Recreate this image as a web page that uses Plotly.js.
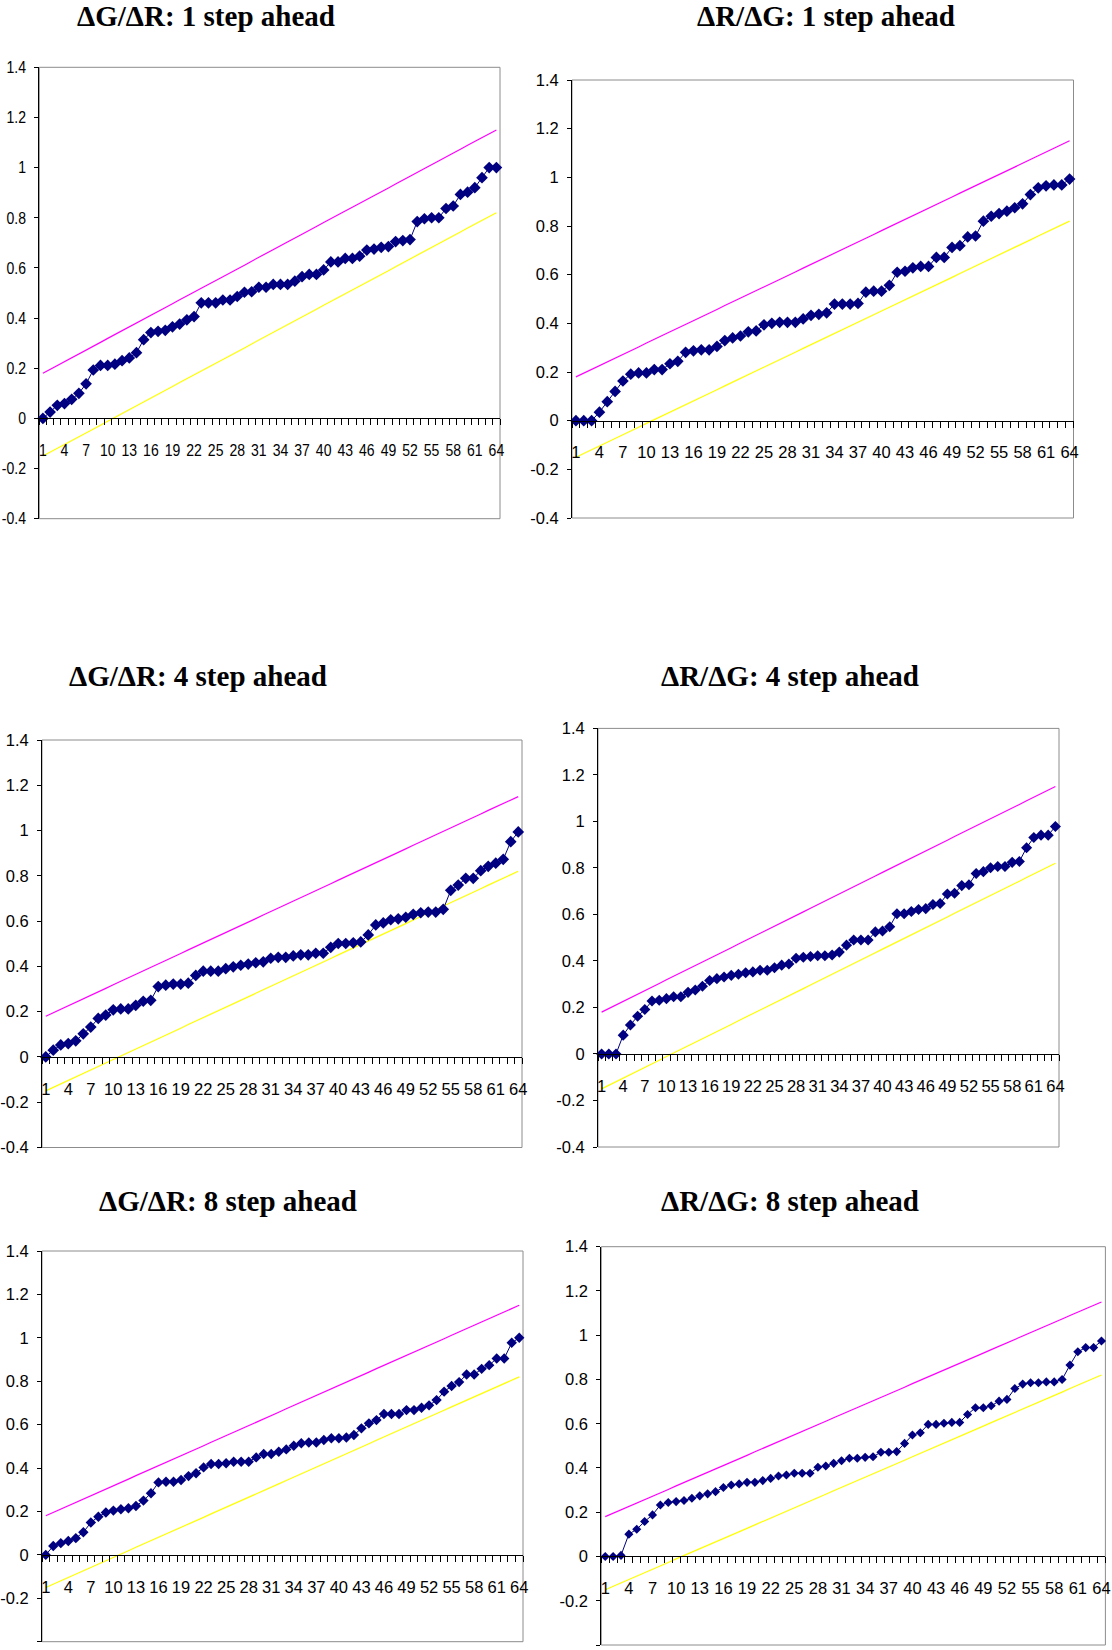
<!DOCTYPE html>
<html><head><meta charset="utf-8">
<script src="https://cdn.plot.ly/plotly-3.0.1.min.js"></script>
<style>html,body{margin:0;padding:0;background:#fff}#chart{width:1112px;height:1650px}</style>
</head><body><div id="chart"></div>
<script>
const categories = [1,2,3,4,5,6,7,8,9,10,11,12,13,14,15,16,17,18,19,20,21,22,23,24,25,26,27,28,29,30,31,32,33,34,35,36,37,38,39,40,41,42,43,44,45,46,47,48,49,50,51,52,53,54,55,56,57,58,59,60,61,62,63,64];

const upperBound = [0.180,0.195,0.211,0.226,0.242,0.257,0.272,0.288,0.303,0.319,
  0.334,0.349,0.365,0.380,0.396,0.411,0.426,0.442,0.457,0.473,
  0.488,0.503,0.519,0.534,0.550,0.565,0.580,0.596,0.611,0.627,
  0.642,0.657,0.673,0.688,0.704,0.719,0.734,0.750,0.765,0.781,
  0.796,0.811,0.827,0.842,0.858,0.873,0.888,0.904,0.919,0.935,
  0.950,0.965,0.981,0.996,1.012,1.027,1.042,1.058,1.073,1.089,
  1.104,1.119,1.135,1.150];

const lowerBound = [-0.150,-0.135,-0.119,-0.104,-0.088,-0.073,-0.058,-0.042,-0.027,-0.011,
  0.004,0.019,0.035,0.050,0.066,0.081,0.096,0.112,0.127,0.143,
  0.158,0.173,0.189,0.204,0.220,0.235,0.250,0.266,0.281,0.297,
  0.312,0.327,0.343,0.358,0.374,0.389,0.404,0.420,0.435,0.451,
  0.466,0.481,0.497,0.512,0.528,0.543,0.558,0.574,0.589,0.605,
  0.620,0.635,0.651,0.666,0.682,0.697,0.712,0.728,0.743,0.759,
  0.774,0.789,0.805,0.820];

const gr1 = [0,0.025,0.052,0.059,0.076,0.10,0.138,0.193,0.211,0.211,
  0.216,0.23,0.241,0.262,0.314,0.342,0.347,0.351,0.365,0.376,
  0.393,0.406,0.461,0.461,0.461,0.472,0.472,0.486,0.503,0.505,
  0.523,0.523,0.534,0.534,0.534,0.547,0.565,0.574,0.574,0.592,
  0.624,0.624,0.638,0.638,0.647,0.671,0.675,0.682,0.685,0.705,
  0.709,0.713,0.785,0.796,0.80,0.80,0.837,0.847,0.893,0.902,
  0.92,0.96,1.0,1.0];

const rg1 = [0,0,0,0.035,0.078,0.12,0.163,0.191,0.196,0.196,
  0.21,0.21,0.234,0.244,0.281,0.287,0.291,0.291,0.305,0.329,
  0.34,0.348,0.365,0.369,0.394,0.40,0.404,0.404,0.404,0.418,
  0.433,0.437,0.443,0.479,0.479,0.479,0.482,0.528,0.532,0.532,
  0.556,0.61,0.614,0.628,0.634,0.634,0.671,0.671,0.712,0.719,
  0.755,0.759,0.82,0.84,0.851,0.861,0.875,0.891,0.929,0.957,
  0.965,0.969,0.969,0.993];

const gr4 = [0,0.03,0.053,0.059,0.071,0.102,0.132,0.17,0.185,0.208,
  0.212,0.212,0.228,0.246,0.25,0.311,0.317,0.322,0.322,0.326,
  0.36,0.379,0.379,0.379,0.39,0.398,0.405,0.41,0.416,0.42,
  0.436,0.44,0.44,0.446,0.451,0.451,0.458,0.458,0.484,0.501,
  0.501,0.504,0.508,0.539,0.583,0.592,0.606,0.61,0.617,0.63,
  0.637,0.64,0.64,0.652,0.736,0.759,0.789,0.789,0.823,0.842,
  0.856,0.873,0.951,0.994];

const rg4 = [0,0,0,0.081,0.125,0.162,0.191,0.228,0.231,0.238,
  0.246,0.246,0.265,0.275,0.291,0.316,0.324,0.331,0.338,0.343,
  0.349,0.353,0.36,0.36,0.371,0.382,0.387,0.412,0.416,0.419,
  0.422,0.422,0.426,0.438,0.468,0.49,0.49,0.49,0.525,0.529,
  0.547,0.603,0.603,0.613,0.621,0.625,0.643,0.647,0.688,0.691,
  0.724,0.728,0.776,0.784,0.801,0.806,0.806,0.824,0.828,0.887,
  0.931,0.941,0.941,0.978];

const gr8 = [0,0.041,0.054,0.064,0.077,0.104,0.149,0.176,0.195,0.204,
  0.21,0.215,0.225,0.25,0.284,0.334,0.337,0.337,0.345,0.363,
  0.376,0.403,0.419,0.419,0.422,0.429,0.429,0.429,0.449,0.465,
  0.465,0.475,0.486,0.503,0.514,0.518,0.518,0.529,0.537,0.537,
  0.541,0.552,0.583,0.606,0.621,0.649,0.649,0.649,0.667,0.667,
  0.678,0.689,0.713,0.752,0.778,0.796,0.831,0.831,0.857,0.874,
  0.905,0.905,0.977,1.0];

const rg8 = [0,0,0.005,0.101,0.123,0.158,0.188,0.233,0.244,0.248,
  0.253,0.263,0.274,0.283,0.293,0.312,0.323,0.328,0.335,0.335,
  0.343,0.353,0.364,0.368,0.376,0.376,0.376,0.403,0.409,0.421,
  0.433,0.444,0.444,0.448,0.451,0.471,0.471,0.474,0.511,0.549,
  0.559,0.597,0.597,0.602,0.606,0.606,0.642,0.672,0.672,0.681,
  0.702,0.71,0.759,0.779,0.785,0.785,0.789,0.789,0.8,0.865,
  0.925,0.944,0.944,0.974];

const titles = ['ΔG/ΔR: 1 step ahead','ΔR/ΔG: 1 step ahead','ΔG/ΔR: 4 step ahead','ΔR/ΔG: 4 step ahead','ΔG/ΔR: 8 step ahead','ΔR/ΔG: 8 step ahead'];
const series = [gr1, rg1, gr4, rg4, gr8, rg8];

const xTickVals = [1,4,7,10,13,16,19,22,25,28,31,34,37,40,43,46,49,52,55,58,61,64];
const xTickText = ['1','4','7','10','13','16','19','22','25','28','31','34','37','40','43','46','49','52','55','58','61','64'];
const yTickVals = [-0.4,-0.2,0,0.2,0.4,0.6,0.8,1,1.2,1.4];
const yTickText = ['-0.4','-0.2','0','0.2','0.4','0.6','0.8','1','1.2','1.4'];

// layout geometry (pixels)
const W = 1112, H = 1650;
const boxes = [
  {l:39.3, r:500,    t:67.3,  b:518.7,  tx:205.5, ty:15.5,   ms:9},
  {l:572,  r:1073.5, t:80,    b:518,    tx:826.3, ty:15.5,   ms:9},
  {l:42,   r:522,    t:740,   b:1147.5, tx:198.3, ty:676.2,  ms:9},
  {l:598,  r:1059,   t:728.4, b:1147,   tx:789.7, ty:676.2,  ms:8.5},
  {l:42,   r:523,    t:1251,  b:1641.7, tx:227.5, ty:1201.2, ms:8},
  {l:601.3,r:1105.4, t:1246.7,b:1645,   tx:789.7, ty:1201.2, ms:7}
];
const YMIN = -0.4, YMAX = 1.4;
const LABEL_SQUEEZE = 0.85;

const tickFont = {family:'"Liberation Sans", Arial, sans-serif', size:16.5, color:'#000'};
const data = [];
const layout = {
  width: W, height: H,
  margin: {l:0, r:0, t:0, b:0},
  paper_bgcolor: '#fff', plot_bgcolor: '#fff',
  showlegend: false,
  shapes: [], annotations: []
};

boxes.forEach((bx, i) => {
  const n = i + 1;
  const xa = n === 1 ? 'x' : 'x' + n;
  const ya = n === 1 ? 'y' : 'y' + n;
  const xk = n === 1 ? 'xaxis' : 'xaxis' + n;
  const yk = n === 1 ? 'yaxis' : 'yaxis' + n;
  const y0 = 1 - bx.b / H, y1 = 1 - bx.t / H;
  const zeroPos = y0 + (0 - YMIN) / (YMAX - YMIN) * (y1 - y0);

  data.push({x: categories, y: upperBound, xaxis: xa, yaxis: ya, mode: 'lines', type: 'scatter',
    line: {color: '#FF00FF', width: 1.2}, hoverinfo: 'skip'});
  data.push({x: categories, y: lowerBound, xaxis: xa, yaxis: ya, mode: 'lines', type: 'scatter',
    line: {color: '#FFFF00', width: 1.2}, hoverinfo: 'skip'});
  data.push({x: categories, y: series[i], xaxis: xa, yaxis: ya, mode: 'lines+markers', type: 'scatter',
    line: {color: '#000080', width: 1}, marker: {symbol: 'diamond', size: bx.ms, color: '#000080'}, cliponaxis: false});

  layout[xk] = {
    domain: [bx.l / W, bx.r / W], range: [0.5, 64.5],
    anchor: 'free', position: zeroPos,
    showline: true, linecolor: '#000', linewidth: 1,
    tickmode: 'array', tickvals: xTickVals, ticktext: xTickText,
    ticks: '', ticklabelstandoff: 17,
    minor: {ticks: 'outside', tickmode: 'linear', tick0: 0.5, dtick: 1, ticklen: 6, tickcolor: '#000', tickwidth: 1, showgrid: false},
    showgrid: false, zeroline: false, tickfont: tickFont, fixedrange: true
  };
  layout[yk] = {
    domain: [y0, y1], range: [YMIN, YMAX], anchor: xa,
    showline: true, linecolor: '#000', linewidth: 1,
    tickmode: 'array', tickvals: yTickVals, ticktext: yTickText,
    ticks: 'outside', ticklen: 4, tickcolor: '#000', ticklabelstandoff: 5,
    showgrid: false, zeroline: false, tickfont: tickFont, fixedrange: true
  };
  layout.shapes.push({type: 'rect', xref: xa + ' domain', yref: ya + ' domain', x0: 0, x1: 1, y0: 0, y1: 1,
    line: {color: '#8c8c8c', width: 1}, layer: 'below'});
  layout.annotations.push({text: '<b>' + titles[i] + '</b>', xref: 'paper', yref: 'paper',
    x: bx.tx / W, y: 1 - bx.ty / H, xanchor: 'center', yanchor: 'middle', showarrow: false,
    font: {family: '"Liberation Serif", "Times New Roman", serif', size: 29, color: '#000'}});
});

Plotly.newPlot('chart', data, layout, {staticPlot: true, displayModeBar: false}).then(gd => {
  // condensed tick labels, as in the original chart
  gd.querySelectorAll('.xtick text, .ytick text').forEach(t => {
    const x = parseFloat(t.getAttribute('x')) || 0;
    const tr = t.getAttribute('transform') || '';
    t.setAttribute('transform', tr + ' translate(' + x + ',0) scale(' + LABEL_SQUEEZE + ',1) translate(' + (-x) + ',0)');
  });
});
</script>
</body></html>
